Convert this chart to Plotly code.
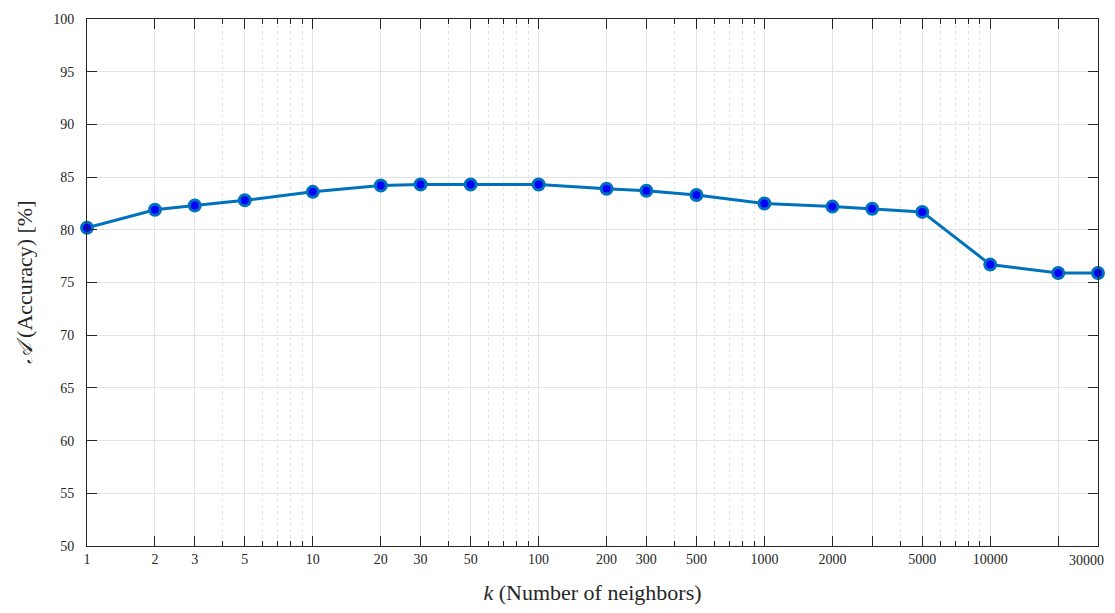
import math
import plotly.graph_objects as go

k_values = [1, 2, 3, 5, 10, 20, 30, 50, 100, 200, 300, 500, 1000, 2000, 3000, 5000, 10000, 20000, 30000]
accuracy = [80.2, 81.9, 82.3, 82.8, 83.6, 84.2, 84.3, 84.3, 84.3, 83.9, 83.7, 83.3, 82.5, 82.2, 82.0, 81.7, 76.7, 75.9, 75.9]

x_tickvals = [1, 2, 3, 5, 10, 20, 30, 50, 100, 200, 300, 500, 1000, 2000, 3000, 5000, 10000, 20000, 30000]
x_ticktext = ["1", "2", "3", "5", "10", "20", "30", "50", "100", "200", "300", "500", "1000", "2000", "", "5000", "10000", "", "30000"]
x_minor = []
for d in [1, 10, 100, 1000]:
    for m in [4, 6, 7, 8, 9]:
        x_minor.append(m * d)
y_tickvals = [50, 55, 60, 65, 70, 75, 80, 85, 90, 95, 100]

fig = go.Figure()
fig.add_trace(go.Scatter(
    x=k_values, y=accuracy, mode="lines+markers",
    line=dict(color="#0072BD", width=3),
    marker=dict(color="#0000FF", size=11, line=dict(color="#0072BD", width=3)),
    showlegend=False, cliponaxis=False,
))

font_fam = "Liberation Serif, Times New Roman, serif"
tick_font = dict(family=font_fam, size=14, color="#262626")

# last tick label is drawn right-aligned so it stays inside the figure (as in the reference)
shown_ticktext = x_ticktext[:-1] + [""]
fig.add_annotation(
    x=math.log10(x_tickvals[-1]), xref="x", y=0, yref="paper",
    text=x_ticktext[-1], showarrow=False, xanchor="right", yanchor="top",
    xshift=8, yshift=-5, font=tick_font,
)

fig.update_layout(
    width=1099, height=597,
    margin=dict(l=79, r=9, t=11, b=59),
    paper_bgcolor="white", plot_bgcolor="white",
    font=dict(family=font_fam, size=14, color="#262626"),
    xaxis=dict(
        type="log", range=[0, 4.4772], tickmode="array",
        tickvals=x_tickvals, ticktext=shown_ticktext,
        ticks="inside", ticklen=10, tickwidth=1, tickcolor="#262626",
        showline=True, linecolor="#262626", linewidth=1, mirror="ticks",
        showgrid=True, gridcolor="#e3e3e3", gridwidth=1,
        zeroline=False, automargin=False, ticklabelstandoff=0,
        minor=dict(tickmode="array", tickvals=x_minor, ticks="inside", ticklen=5,
                   tickcolor="#262626", showgrid=True, gridcolor="#e3e3e3",
                   griddash="dot", gridwidth=1),
        tickfont=tick_font,
        title=dict(text="<i>k</i> (Number of neighbors)",
                   font=dict(family="Liberation Serif, serif", size=22, color="#262626"),
                   standoff=20),
    ),
    yaxis=dict(
        range=[50, 100], tickmode="array", tickvals=y_tickvals,
        ticks="inside", ticklen=10, tickwidth=1, tickcolor="#262626",
        showline=True, linecolor="#262626", linewidth=1, mirror="ticks",
        showgrid=True, gridcolor="#e3e3e3", gridwidth=1,
        zeroline=False, automargin=False, ticklabelstandoff=9,
        tickfont=tick_font,
        title=dict(text="<i>\U0001D49C</i> (Accuracy) [%]",
                   font=dict(family="Liberation Serif, serif", size=22, color="#262626"),
                   standoff=14),
    ),
)

fig.write_html("out.html")
